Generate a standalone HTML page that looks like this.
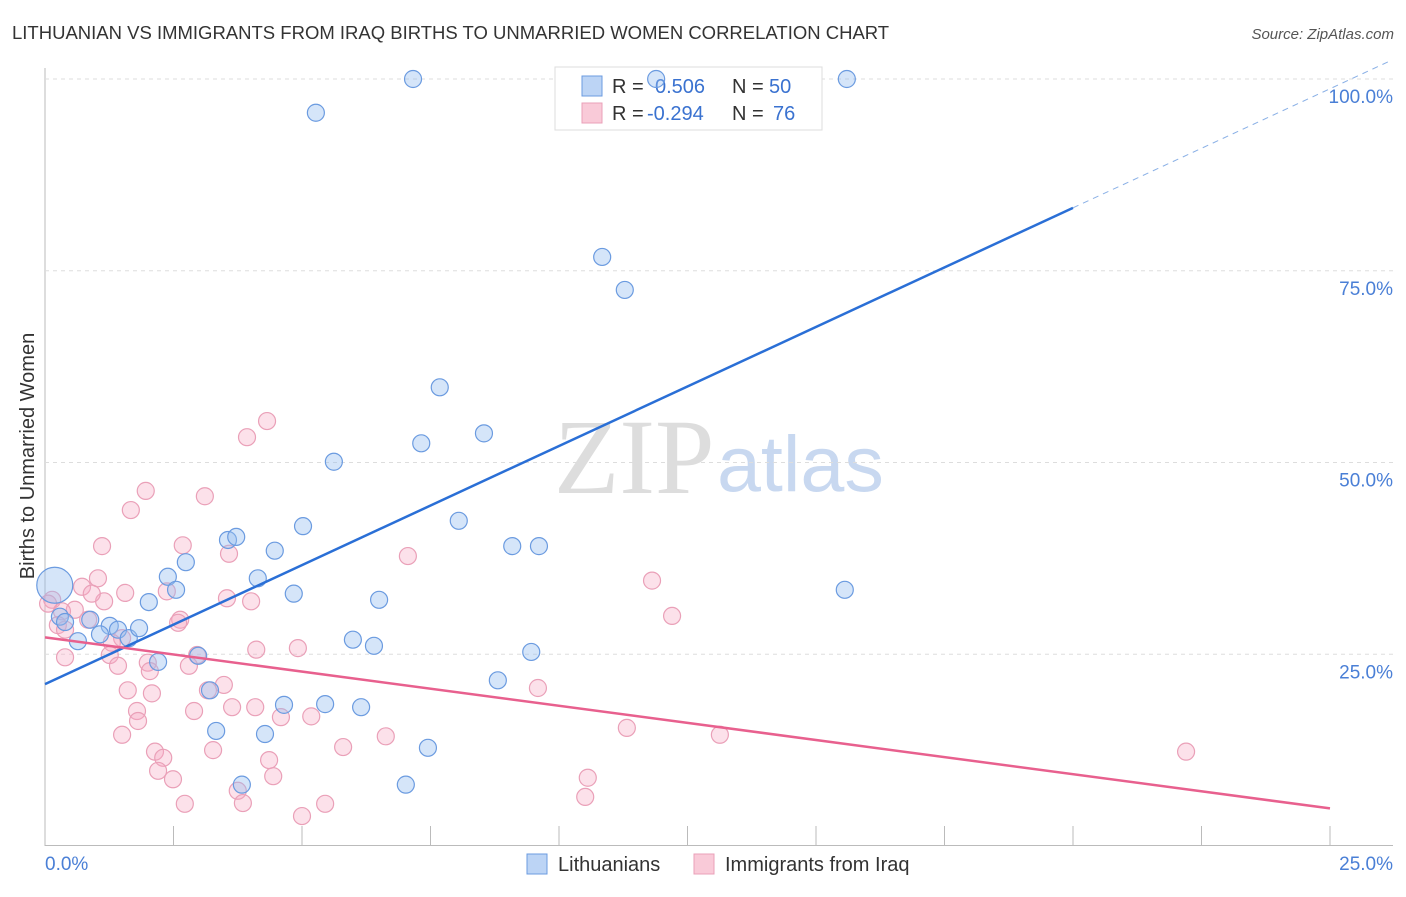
<!DOCTYPE html>
<html><head><meta charset="utf-8"><style>
body{margin:0;background:#fff;font-family:"Liberation Sans",sans-serif;}
</style></head><body>
<svg id="c" width="1406" height="892" xmlns="http://www.w3.org/2000/svg" style="font-family:'Liberation Sans',sans-serif">
<text x="12" y="39" font-size="18.5" fill="#333">LITHUANIAN VS IMMIGRANTS FROM IRAQ BIRTHS TO UNMARRIED WOMEN CORRELATION CHART</text>
<text x="1394" y="39" font-size="15" fill="#555" font-style="italic" text-anchor="end">Source: ZipAtlas.com</text>
<text x="34" y="456" font-size="20" fill="#333" text-anchor="middle" transform="rotate(-90 34 456)">Births to Unmarried Women</text>
<text x="554" y="493" font-size="107" fill="#ddd" font-family="Liberation Serif,serif">ZIP</text>
<text x="717" y="491" font-size="79" fill="#c8d8f0">atlas</text>
<g id="grid"></g>
<g>
<rect x="555" y="67" width="267" height="63" fill="#fff" stroke="#ddd"/>
<rect x="582" y="76" width="20" height="20" fill="#bcd4f5" stroke="#6b9be0"/>
<rect x="582" y="103" width="20" height="20" fill="#f9cad8" stroke="#eaa0b8"/>
<text x="612" y="93" font-size="20" fill="#333">R = <tspan x="655" fill="#3a72d0">0.506</tspan><tspan x="732">N = </tspan><tspan x="769" fill="#3a72d0">50</tspan></text>
<text x="612" y="120" font-size="20" fill="#333">R = <tspan x="647" fill="#3a72d0">-0.294</tspan><tspan x="732">N = </tspan><tspan x="773" fill="#3a72d0">76</tspan></text>
</g>
<g id="pts"></g><g id="lines"></g>
<g>
<rect x="527" y="854" width="20" height="20" fill="#bcd4f5" stroke="#6b9be0"/>
<text x="558" y="871" font-size="20" fill="#333">Lithuanians</text>
<rect x="694" y="854" width="20" height="20" fill="#f9cad8" stroke="#eaa0b8"/>
<text x="725" y="871" font-size="20" fill="#333">Immigrants from Iraq</text>
</g>
</svg>
<script>
const xTicksPct=[0,25];
const yTicks=[25,50,75,100];
const blueX=[7.16,5.27,11.89,15.60,10.84,11.28,7.68,7.32,8.54,5.62,8.05,9.09,9.61,5.02,3.56,3.72,4.47,2.74,4.14,2.39,2.55,2.02,4.84,6.50,15.56,5.99,6.40,9.46,8.81,2.98,2.20,3.21,4.65,5.45,6.15,3.33,4.28,7.45,3.83,7.02,0.19,0.29,0.88,1.26,1.42,1.63,0.64,1.07,1.83,0.39];
const blueY=[100,95.6,100,100,76.8,72.5,59.8,52.5,53.8,50.1,42.4,39.1,39.1,41.7,39.9,40.3,38.5,37.0,34.9,35.1,33.4,31.8,32.9,32.1,33.4,26.9,26.1,25.3,21.6,24.8,24.0,20.3,18.4,18.5,18.1,15.0,14.6,12.8,8.0,8.0,34.0,29.9,29.5,28.7,28.2,27.1,26.7,27.6,28.4,29.2];
const pinkX=[4.32,3.93,1.96,3.11,1.67,1.11,2.68,3.58,7.06,1.03,0.72,1.56,2.37,1.15,4.01,3.54,0.14,0.06,0.58,0.91,0.33,0.84,2.63,2.59,0.25,12.20,11.81,1.50,1.30,2.96,4.11,4.92,1.26,0.39,2.00,2.04,2.80,1.42,3.48,1.61,3.17,2.08,9.59,2.90,3.64,4.09,1.79,4.59,5.18,1.81,1.50,11.32,13.13,6.63,5.80,22.20,2.14,3.27,2.30,4.36,2.20,2.49,4.44,3.75,10.56,10.51,2.72,3.85,5.45,5.00,0.39];
const pinkY=[55.4,53.3,46.3,45.6,43.8,39.1,39.2,38.1,37.8,34.9,33.8,33.0,33.2,31.9,31.9,32.3,32.1,31.6,30.8,32.9,30.6,29.5,29.5,29.1,28.8,30.0,34.6,27.1,26.5,24.9,25.6,25.8,24.9,24.6,23.9,22.8,23.5,23.5,21.0,20.3,20.3,19.9,20.6,17.6,18.1,18.1,17.6,16.8,16.9,16.3,14.5,15.4,14.5,14.3,12.9,12.3,12.3,12.5,11.5,11.2,9.8,8.7,9.1,7.2,8.9,6.4,5.5,5.6,5.5,3.9,28.2];
const blueTrend=[21.1,3.105]; // intercept, slope per %
const pinkTrend=[27.2,-0.892];
const NS='http://www.w3.org/2000/svg';
const X=v=>45+v*51.4, Y=v=>846-v*7.67;
function mk(t,a,p){const e=document.createElementNS(NS,t);for(const k in a)e.setAttribute(k,a[k]);p.appendChild(e);return e;}
const g=document.getElementById('grid');
mk('line',{x1:45,y1:68,x2:45,y2:846,stroke:'#bbb'},g);
mk('line',{x1:45,y1:845.5,x2:1393,y2:845.5,stroke:'#bbb'},g);
for(let i=1;i<=10;i++){const t=mk('line',{x1:45+i*128.5,y1:826,x2:45+i*128.5,y2:846,stroke:'#bbb'},g);

}
yTicks.forEach(v=>{const l=mk('line',{x1:45,y1:Y(v),x2:1393,y2:Y(v),stroke:'#ddd','stroke-dasharray':'4,4'},g);


const t=mk('text',{x:1393,y:Y(v)+24,'font-size':19,fill:'#4a7fd6','text-anchor':'end'},g);t.textContent=v.toFixed(1)+'%';

});
xTicksPct.forEach((v,i)=>{const t=mk('text',{x:i?1393:45,y:870,'font-size':19,fill:'#4a7fd6','text-anchor':i?'end':'start'},g);t.textContent=v.toFixed(1)+'%';

});
const p=document.getElementById('pts');
pinkX.forEach((x,i)=>{const c=mk('circle',{cx:X(x),cy:Y(pinkY[i]),r:8.5,fill:'rgba(245,170,195,0.35)',stroke:'#eaa0b8','stroke-width':1.2},p);

});
blueX.forEach((x,i)=>{const c=mk('circle',{cx:X(x),cy:Y(blueY[i]),r:i==40?18:8.5,fill:'rgba(150,190,240,0.4)',stroke:'#6b9be0','stroke-width':1.2},p);

});
const L=document.getElementById('lines');
const bt=x=>blueTrend[0]+blueTrend[1]*x, pt=x=>pinkTrend[0]+pinkTrend[1]*x;
let l=mk('line',{x1:X(0),y1:Y(bt(0)),x2:X(20),y2:Y(bt(20)),stroke:'#2a6fd6','stroke-width':2.5},L);


l=mk('line',{x1:X(20),y1:Y(bt(20)),x2:X(26.2),y2:Y(bt(26.2)),stroke:'#8ab0e6','stroke-width':1,'stroke-dasharray':'6,5'},L);


l=mk('line',{x1:X(0),y1:Y(pt(0)),x2:X(25),y2:Y(pt(25)),stroke:'#e8608e','stroke-width':2.5},L);


</script>
</body></html>
